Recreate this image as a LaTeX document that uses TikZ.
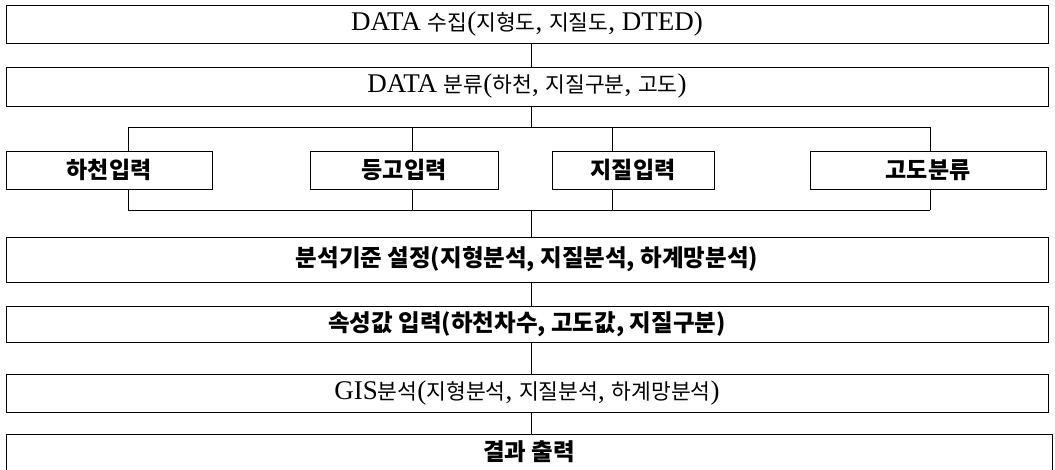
\documentclass[tikz,border=0pt]{standalone}
\usepackage{fontspec}
\setmainfont{Liberation Serif}
\newfontfamily\kr{Noto Sans CJK KR}
\newcommand\kk[1]{{\kr\fontsize{21.5}{25}\selectfont #1}}
\begin{document}
\begin{tikzpicture}[x=1pt,y=1pt,
  bigbox/.style={draw, line width=1pt, minimum width=1042pt, inner sep=0pt},
  smallbox/.style={draw, line width=1pt, minimum height=38pt, inner sep=0pt, font=\kr\bfseries\fontsize{23}{27}\selectfont},
  serifline/.style={font=\fontsize{27}{30}\selectfont},
  gothline/.style={font=\kr\bfseries\fontsize{23.5}{27}\selectfont},
  conn/.style={line width=1pt}]
\useasboundingbox (0,0) rectangle (1055,-469);
% big boxes
\node[bigbox, serifline, minimum height=38pt] (b1) at (527,-24) {DATA \kk{수집}(\kk{지형도}, \kk{지질도}, DTED)};
\node[bigbox, serifline, minimum height=39pt] (b2) at (527,-86.5) {DATA \kk{분류}(\kk{하천}, \kk{지질구분}, \kk{고도})};
\node[bigbox, gothline, minimum height=45pt] (b3) at (527,-259.5) {분석기준 설정(지형분석, 지질분석, 하계망분석)};
\node[bigbox, gothline, minimum height=36pt] (b4) at (527,-324) {속성값 입력(하천차수, 고도값, 지질구분)};
\node[bigbox, serifline, minimum height=38pt] (b5) at (527,-393) {GIS\kk{분석}(\kk{지형분석}, \kk{지질분석}, \kk{하계망분석})};
\node[draw, line width=1pt, minimum width=1046pt, minimum height=70pt, inner sep=0pt, anchor=north west] (b6) at (6,-434) {};
\node[gothline] (t6) at (529,-452) {결과 출력};
% small boxes
\node[smallbox, minimum width=206pt] (s1) at (109,-170) {하천입력};
\node[smallbox, minimum width=188pt] (s2) at (404,-170) {등고입력};
\node[smallbox, minimum width=162pt] (s3) at (633,-170) {지질입력};
\node[smallbox, minimum width=236pt] (s4) at (928,-170) {고도분류};
% branch coordinates
\coordinate (top) at (531,-127);
\coordinate (bot) at (531,-210);
\coordinate (t1) at (128,-127);
\coordinate (t2) at (412,-127);
\coordinate (t3) at (612,-127);
\coordinate (t4) at (930,-127);
\coordinate (u1) at (128,-210);
\coordinate (u2) at (412,-210);
\coordinate (u3) at (612,-210);
\coordinate (u4) at (930,-210);
% connectors
\draw[conn] (b1.south -| top) -- (b2.north -| top);
\draw[conn] (b2.south -| top) -- (top);
\draw[conn] (t1) -- (t4);
\draw[conn] (t1) -- (s1.north -| t1);
\draw[conn] (t2) -- (s2.north -| t2);
\draw[conn] (t3) -- (s3.north -| t3);
\draw[conn] (t4) -- (s4.north -| t4);
\draw[conn] (s1.south -| u1) -- (u1);
\draw[conn] (s2.south -| u2) -- (u2);
\draw[conn] (s3.south -| u3) -- (u3);
\draw[conn] (s4.south -| u4) -- (u4);
\draw[conn] (u1) -- (u4);
\draw[conn] (bot) -- (b3.north -| bot);
\draw[conn] (b3.south -| bot) -- (b4.north -| bot);
\draw[conn] (b4.south -| bot) -- (b5.north -| bot);
\draw[conn] (b5.south -| bot) -- (b6.north -| bot);
\end{tikzpicture}
\end{document}
